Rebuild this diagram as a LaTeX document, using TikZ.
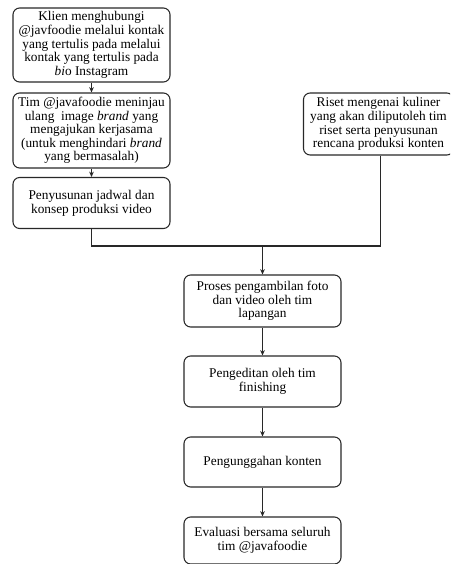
\documentclass[tikz,border=0pt]{standalone}
\usepackage{fontspec}
\setmainfont{Liberation Serif}
\usetikzlibrary{arrows.meta,positioning}
\definecolor{inkline}{RGB}{40, 40, 40}

\tikzset{
    stepbox/.style={draw=inkline, line width=0.8pt, rounded corners=5pt, align=center,
                    inner sep=1pt, font=\fontsize{10}{10.2}\selectfont},
    flow/.style={draw=inkline, line width=0.8pt, -{Stealth[length=4pt, width=3.5pt]}},
    link/.style={draw=inkline, line width=0.8pt}
}

\begin{document}
\begin{tikzpicture}[x=0.75pt, y=-0.75pt]
            % Frame to ensure alignment:
            \useasboundingbox (0, 0) rectangle (450, 564);
            \clip (0, 0) rectangle (450, 564);
            % Left column
            \node[stepbox, minimum width=117.75pt, minimum height=55.5pt] (klien) at ( 91.5,  45.0)
                 {Klien menghubungi\\ @javfoodie melalui kontak\\ yang tertulis pada melalui\\ kontak yang tertulis pada\\ \textit{bi}o Instagram};
            \node[stepbox, minimum width=117.75pt, minimum height=56.25pt] (tinjau) at ( 91.5, 130.5)
                 {Tim @javafoodie meninjau\\ ulang\ \ image \textit{brand} yang\\ mengajukan kerjasama\\ (untuk menghindari \textit{brand}\\ yang bermasalah)};
            \node[stepbox, minimum width=117.75pt, minimum height=38.25pt] (jadwal) at ( 91.5, 203.0)
                 {Penyusunan jadwal dan\\ konsep produksi video};
            % Right column
            \node[stepbox, minimum width=112.5pt, minimum height=46.5pt] (riset) at (378.5, 124.0)
                 {Riset mengenai kuliner\\ yang akan diliputoleh tim\\ riset serta penyusunan\\ rencana produksi konten};
            % Middle column
            \node[stepbox, minimum width=117.75pt, minimum height=39pt] (ambil) at (262.5, 301.0)
                 {Proses pengambilan foto\\ dan video oleh tim\\ lapangan};
            \node[stepbox, minimum width=117.75pt, minimum height=38.25pt] (edit) at (262.5, 381.5)
                 {Pengeditan oleh tim\\ finishing};
            \node[stepbox, minimum width=117.75pt, minimum height=37.5pt] (unggah) at (262.5, 462.0)
                 {Pengunggahan konten};
            \node[stepbox, minimum width=117.75pt, minimum height=35.25pt] (evaluasi) at (262.5, 540.5)
                 {Evaluasi bersama seluruh\\ tim @javafoodie};
            % Connectors
            \coordinate (gabung) at (262.5, 246.0);
            \draw[flow] (klien) -- (tinjau);
            \draw[flow] (tinjau) -- (jadwal);
            \draw[link] (jadwal.south) |- (gabung);
            \draw[link] ([xshift=1.5pt]riset.south) |- (gabung);
            \draw[flow] (gabung) -- (ambil);
            \draw[flow] (ambil) -- (edit);
            \draw[flow] (edit) -- (unggah);
            \draw[flow] (unggah) -- (evaluasi);
        \end{tikzpicture}
\end{document}
